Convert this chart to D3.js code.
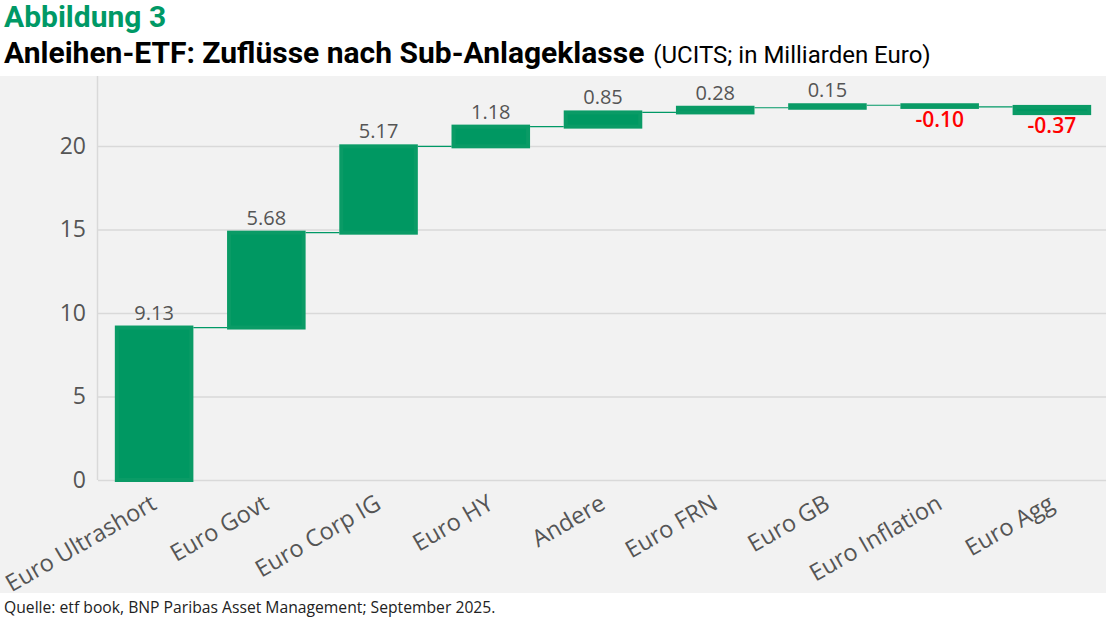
<!DOCTYPE html>
<html>
<head>
<meta charset="utf-8">
<script src="https://cdn.jsdelivr.net/npm/d3@7"></script>
<style>
  body { margin: 0; background: #fff; }
  svg { display: block; }
</style>
</head>
<body>
<script>
// Width and height
var w = 1106;
var h = 620;

var categories = ["Euro Ultrashort", "Euro Govt", "Euro Corp IG", "Euro HY", "Andere",
                  "Euro FRN", "Euro GB", "Euro Inflation", "Euro Agg"];
var flows = [9.13, 5.68, 5.17, 1.18, 0.85, 0.28, 0.15, -0.10, -0.37];
var yTicks = [0, 5, 10, 15, 20];

// running totals for the waterfall
var steps = [];
var total = 0;
flows.forEach(function(v, i) {
    steps.push({ name: categories[i], value: v, start: total, end: total + v });
    total += v;
});

var plot = { left: 98, right: 1108, top: 76, bottom: 593 };

var xScale = d3.scaleBand()
    .domain(categories)
    .range([plot.left, plot.right])
    .paddingInner(0.3)
    .paddingOuter(0.15);

var yScale = d3.scaleLinear()
    .domain([0, 20])
    .range([480, 146]);

var fmt = d => d3.format(".2f")(d).replace("\u2212", "-");

var svg = d3.select("body")
    .append("svg")
    .attr("width", w)
    .attr("height", h);

// grey plot panel
svg.append("rect")
    .attr("x", 0)
    .attr("y", plot.top)
    .attr("width", w)
    .attr("height", plot.bottom - plot.top)
    .attr("fill", "#f2f2f2");

// titles
svg.append("text")
    .attr("x", 4)
    .attr("y", 27)
    .attr("font-family", "Roboto, sans-serif")
    .attr("font-weight", "bold")
    .attr("font-size", "30px")
    .attr("fill", "#009966")
    .text("Abbildung 3");

var t2 = svg.append("text")
    .attr("x", 4)
    .attr("y", 63)
    .attr("font-family", "Roboto, sans-serif")
    .attr("fill", "#000");
t2.append("tspan")
    .attr("font-weight", "bold")
    .attr("font-size", "30px")
    .text("Anleihen-ETF: Zuflüsse nach Sub-Anlageklasse");
t2.append("tspan")
    .attr("font-size", "24px")
    .attr("dx", 9)
    .text("(UCITS; in Milliarden Euro)");

// gridlines
svg.append("g")
    .selectAll("line")
    .data(yTicks)
    .enter()
    .append("line")
    .attr("x1", plot.left)
    .attr("x2", w)
    .attr("y1", d => yScale(d) + 0.5)
    .attr("y2", d => yScale(d) + 0.5)
    .attr("stroke", "#d9d9d9")
    .attr("stroke-width", 1.5);

// y axis line
svg.append("line")
    .attr("x1", plot.left - 0.5)
    .attr("x2", plot.left - 0.5)
    .attr("y1", plot.top)
    .attr("y2", yScale(0))
    .attr("stroke", "#d9d9d9")
    .attr("stroke-width", 1.5);

// y axis labels
var yAxis = d3.axisLeft(yScale)
    .tickValues(yTicks)
    .tickSize(0)
    .tickPadding(12);

var yg = svg.append("g")
    .attr("transform", "translate(" + plot.left + ",0)")
    .call(yAxis);
yg.select(".domain").remove();
yg.selectAll("text")
    .attr("font-family", "Open Sans, sans-serif")
    .attr("font-size", "23px")
    .attr("fill", "#555");

// connectors
svg.append("g")
    .selectAll("line")
    .data(steps.slice(0, -1))
    .enter()
    .append("line")
    .attr("x1", d => xScale(d.name) + xScale.bandwidth())
    .attr("x2", (d, i) => xScale(categories[i + 1]))
    .attr("y1", d => yScale(d.end))
    .attr("y2", d => yScale(d.end))
    .attr("stroke", "#009966")
    .attr("stroke-width", 1.2);

// bars (thick stroke like the original)
svg.append("g")
    .selectAll("rect")
    .data(steps)
    .enter()
    .append("rect")
    .attr("x", d => xScale(d.name) + 2)
    .attr("y", d => yScale(Math.max(d.start, d.end)))
    .attr("width", xScale.bandwidth() - 4)
    .attr("height", d => Math.abs(yScale(d.start) - yScale(d.end)))
    .attr("fill", "#009862")
    .attr("stroke", "#0a9b66")
    .attr("stroke-width", 4)
    .attr("stroke-linejoin", "miter");

// value labels
svg.append("g")
    .selectAll("text")
    .data(steps)
    .enter()
    .append("text")
    .attr("x", d => xScale(d.name) + xScale.bandwidth() / 2)
    .attr("y", function(d) {
        return d.value >= 0 ? yScale(d.end) - 8 : yScale(d.end) + 20;
    })
    .attr("text-anchor", "middle")
    .attr("font-family", "Open Sans, sans-serif")
    .attr("font-size", d => d.value >= 0 ? "20px" : "21px")
    .attr("font-weight", d => d.value >= 0 ? "normal" : "600")
    .attr("fill", d => d.value >= 0 ? "#555" : "#ff0000")
    .text(d => fmt(d.value));

// category labels
svg.append("g")
    .selectAll("text")
    .data(categories)
    .enter()
    .append("text")
    .attr("transform", function(d) {
        var cx = xScale(d) + xScale.bandwidth() / 2 + 4;
        return "translate(" + cx + ",508) rotate(-30)";
    })
    .attr("text-anchor", "end")
    .attr("font-family", "Open Sans, sans-serif")
    .attr("font-size", "23.5px")
    .attr("fill", "#555")
    .text(d => d);

// source
svg.append("text")
    .attr("x", 4)
    .attr("y", 613)
    .attr("font-family", "Open Sans, sans-serif")
    .attr("font-size", "15.7px")
    .attr("fill", "#222")
    .text("Quelle: etf book, BNP Paribas Asset Management; September 2025.");
</script>
</body>
</html>
